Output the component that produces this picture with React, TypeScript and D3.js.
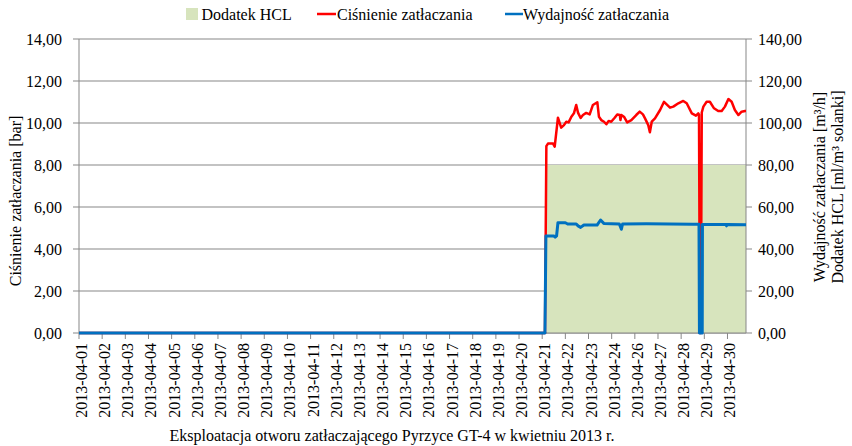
import React from "react";
import * as d3 from "d3";

// X positions are in "label units": 0 = 2013-04-01 tick, 28 = 2013-04-30 tick
const dayLabels = [
  "2013-04-01","2013-04-02","2013-04-03","2013-04-04","2013-04-05","2013-04-06","2013-04-07",
  "2013-04-08","2013-04-09","2013-04-10","2013-04-11","2013-04-12","2013-04-13","2013-04-14",
  "2013-04-15","2013-04-16","2013-04-17","2013-04-18","2013-04-19","2013-04-20","2013-04-21",
  "2013-04-22","2013-04-23","2013-04-24","2013-04-26","2013-04-27","2013-04-28","2013-04-29",
  "2013-04-30",
];
const leftTicks = [0, 2, 4, 6, 8, 10, 12, 14];
const rightTicks = [0, 20, 40, 60, 80, 100, 120, 140];

// Ciśnienie zatłaczania [bar]
const pressureX = [0, 20.12, 20.18, 20.25, 20.47, 20.54, 20.68, 20.82, 20.94, 21.04, 21.14, 21.26, 21.37, 21.47, 21.55, 21.66, 21.76, 21.9, 22.05, 22.19, 22.38, 22.45, 22.55, 22.67, 22.77, 22.87, 22.98, 23.13, 23.24, 23.35, 23.38, 23.42, 23.53, 23.67, 23.85, 24.06, 24.21, 24.35, 24.44, 24.58, 24.65, 24.73, 24.87, 25.09, 25.26, 25.52, 25.66, 25.88, 26.09, 26.24, 26.46, 26.64, 26.74, 26.77, 26.81, 26.85, 26.89, 26.96, 27.1, 27.24, 27.42, 27.6, 27.75, 27.89, 28.04, 28.18, 28.32, 28.47, 28.61, 28.76, 28.8];
const pressureY = [0, 0, 8.9, 9.02, 9.02, 8.87, 10.25, 9.78, 9.9, 10.06, 10.03, 10.3, 10.46, 10.86, 10.48, 10.24, 10.38, 10.48, 10.41, 10.86, 10.99, 10.3, 10.14, 10.06, 9.94, 10.1, 10.06, 10.25, 10.41, 10.38, 10.14, 10.38, 10.3, 10.03, 10.14, 10.38, 10.54, 10.41, 10.22, 9.9, 9.56, 10.06, 10.22, 10.62, 11.01, 10.73, 10.78, 10.94, 11.05, 10.94, 10.46, 10.35, 10.46, 10.4, 0, 0, 10.5, 10.78, 11.01, 11.01, 10.7, 10.57, 10.57, 10.78, 11.14, 11.01, 10.62, 10.38, 10.54, 10.57, 10.57];

// Wydajność zatłaczania [m3/h]
const flowX = [0, 20.12, 20.16, 20.5, 20.56, 20.62, 20.68, 21.0, 21.1, 21.47, 21.55, 21.66, 21.8, 22.37, 22.52, 22.66, 23.33, 23.42, 23.47, 24.5, 25.5, 26.5, 26.77, 26.79, 26.91, 26.92, 27.94, 27.96, 27.98, 28.8];
const flowY = [0, 0, 46.2, 46.2, 45.6, 46.2, 52.5, 52.5, 51.9, 51.9, 51.0, 50.3, 51.4, 51.4, 53.8, 52.2, 51.9, 49.4, 51.9, 52.0, 51.9, 51.8, 51.8, 0, 0, 51.7, 51.7, 51.0, 51.7, 51.6];

// Dodatek HCL [ml/m3 solanki]
const hclX = [20.19, 28.8];
const hclY = [80, 80];

const W = 852, H = 446;
const left = 79, right = 746, top = 39, bottom = 333;
const FONT = "'Liberation Serif', 'Times New Roman', serif";
const GRID = "#878787";
const TXT = { fontFamily: FONT, fontSize: 16, fill: "#000" } as const;

export default function App() {
  const x = d3.scaleLinear().domain([0, 28.8]).range([left, right]);
  const yL = d3.scaleLinear().domain([0, 14]).range([bottom, top]);
  const yR = d3.scaleLinear().domain([0, 140]).range([bottom, top]);

  const pressure = pressureX.map((v, i) => [v, pressureY[i]] as [number, number]);
  const flow = flowX.map((v, i) => [v, flowY[i]] as [number, number]);
  const hcl = hclX.map((v, i) => [v, hclY[i]] as [number, number]);

  const lineL = d3.line<[number, number]>().x(d => x(d[0])).y(d => yL(d[1]));
  const lineR = d3.line<[number, number]>().x(d => x(d[0])).y(d => yR(d[1]));
  const areaR = d3.area<[number, number]>().x(d => x(d[0])).y0(yR(0)).y1(d => yR(d[1]));
  const fmt = (t: number) => d3.format(".2f")(t).replace(".", ",");

  return (
    <div style={{ position: "fixed", left: 0, top: 0 }}>
      <svg width={W} height={H} style={{ display: "block", background: "#fff", fontFamily: FONT }}>
        {leftTicks.map(t => (
          <line key={"g" + t} x1={left} x2={right} y1={yL(t)} y2={yL(t)} stroke={GRID} strokeWidth={1} />
        ))}
        <path d={areaR(hcl) || ""} fill="#d7e4bd" stroke="none" />
        <line x1={left} x2={left} y1={top} y2={bottom} stroke={GRID} />
        <line x1={right} x2={right} y1={top} y2={bottom} stroke={GRID} />
        <line x1={left} x2={right} y1={bottom} y2={bottom} stroke={GRID} />
        {leftTicks.map(t => (
          <g key={"l" + t}>
            <line x1={left - 6} x2={left} y1={yL(t)} y2={yL(t)} stroke={GRID} />
            <text x={62} y={yL(t)} dy="0.35em" textAnchor="end" style={TXT}>{fmt(t)}</text>
          </g>
        ))}
        {rightTicks.map(t => (
          <g key={"r" + t}>
            <line x1={right} x2={right + 6} y1={yR(t)} y2={yR(t)} stroke={GRID} />
            <text x={758} y={yR(t)} dy="0.35em" textAnchor="start" style={TXT}>{fmt(t)}</text>
          </g>
        ))}
        {dayLabels.map((lab, i) => (
          <g key={lab}>
            <line x1={x(i)} x2={x(i)} y1={bottom} y2={bottom + 6} stroke={GRID} />
            <text transform={`translate(${x(i) + 8},343) rotate(-90)`} textAnchor="end" style={TXT}>{lab}</text>
          </g>
        ))}
        <path d={lineL(pressure) || ""} fill="none" stroke="#ff0000" strokeWidth={2.5} strokeLinejoin="round" />
        <path d={lineR(flow) || ""} fill="none" stroke="#0070c0" strokeWidth={3} strokeLinejoin="round" />
        <text transform="translate(21,201) rotate(-90)" textAnchor="middle" style={TXT}>
          Ciśnienie zatłaczania [bar]
        </text>
        <text transform="translate(825,187) rotate(-90)" textAnchor="middle" style={TXT}>
          Wydajność zatłaczania [m³/h]
        </text>
        <text transform="translate(843,187) rotate(-90)" textAnchor="middle" style={TXT}>
          Dodatek HCL [ml/m³ solanki]
        </text>
        <text x={392} y={441} textAnchor="middle" style={TXT}>
          Eksploatacja otworu zatłaczającego Pyrzyce GT-4 w kwietniu 2013 r.
        </text>
        <rect x={186} y={8} width={12} height={12} fill="#d7e4bd" />
        <text x={201.5} y={19.5} style={TXT}>Dodatek HCL</text>
        <line x1={317} x2={336} y1={14} y2={14} stroke="#ff0000" strokeWidth={2.5} />
        <text x={337} y={19.5} style={TXT}>Ciśnienie zatłaczania</text>
        <line x1={505} x2={523} y1={14} y2={14} stroke="#0070c0" strokeWidth={2.5} />
        <text x={523} y={19.5} style={TXT}>Wydajność zatłaczania</text>
      </svg>
    </div>
  );
}
